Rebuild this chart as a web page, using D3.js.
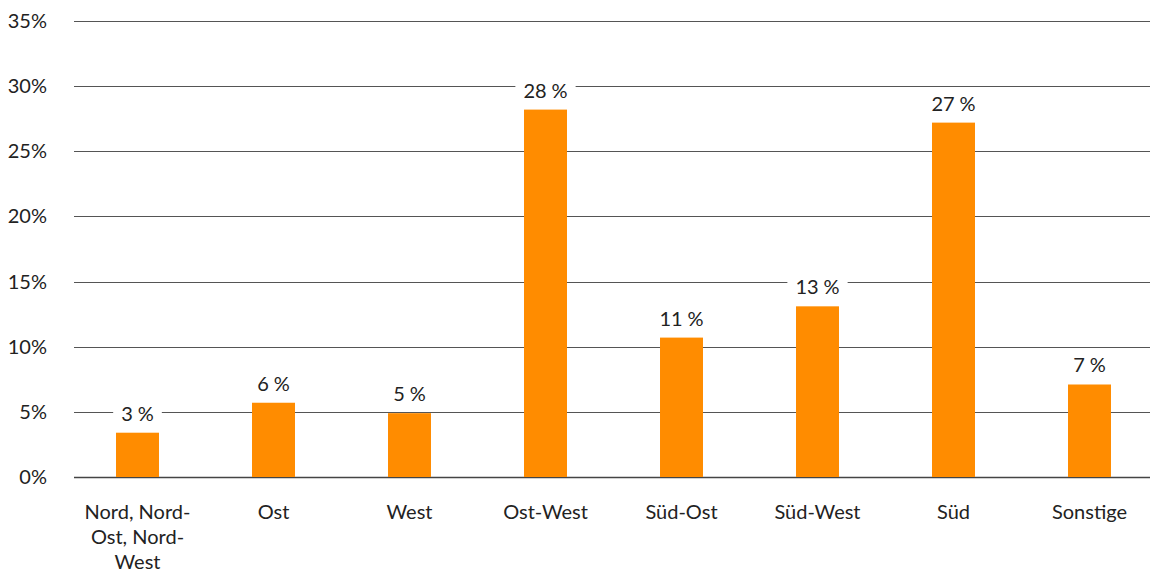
<!DOCTYPE html>
<html>
<head>
<meta charset="utf-8">
<script src="https://cdn.jsdelivr.net/npm/d3@7"></script>
<style>
  html, body { margin: 0; padding: 0; background: #fff; }
  svg { display: block; font-family: Lato, "Noto Sans", sans-serif; }
</style>
</head>
<body>
<svg id="chart" width="1150" height="575"></svg>
<script>
// Share by orientation
const categories = ["Nord, Nord-Ost, Nord-West", "Ost", "West", "Ost-West", "Süd-Ost", "Süd-West", "Süd", "Sonstige"];
const shares = [3.4, 5.7, 4.9, 28.2, 10.7, 13.1, 27.2, 7.1];
const yTicks = [0, 5, 10, 15, 20, 25, 30, 35];

const svg = d3.select("#chart");
const W = 1150, H = 575;
const gridLeft = 74;

const x = d3.scaleBand()
  .domain(categories)
  .range([69.5, 1157.5])
  .paddingInner(0.684)
  .paddingOuter(0.342);

const y = d3.scaleLinear().domain([0, 35]).range([477, 21]);

// Gridlines and y labels
const yAxis = svg.append("g");
yAxis.selectAll("line").data(yTicks).join("line")
  .attr("x1", gridLeft).attr("x2", W)
  .attr("y1", d => Math.round(y(d)) + 0.5).attr("y2", d => Math.round(y(d)) + 0.5)
  .attr("stroke", d => d === 0 ? "#444" : "#555")
  .attr("stroke-width", d => d === 0 ? 1.5 : 1);
yAxis.selectAll("text").data(yTicks).join("text")
  .attr("x", 47).attr("y", d => y(d) + 7)
  .attr("text-anchor", "end")
  .attr("font-size", 20).attr("fill", "#222")
  .text(d => d + "%");

// Bars
svg.append("g").selectAll("rect").data(shares).join("rect")
  .attr("x", (d, i) => x(categories[i]))
  .attr("width", x.bandwidth())
  .attr("y", d => y(d))
  .attr("height", d => y(0) - y(d))
  .attr("fill", "#ff8c00");

// Value labels with white backing
const fmt = d3.format(".0f");
const vl = svg.append("g").selectAll("g").data(shares).join("g")
  .attr("transform", (d, i) => `translate(${x(categories[i]) + x.bandwidth() / 2},${y(d) - 12})`);
vl.append("text")
  .attr("text-anchor", "middle")
  .attr("font-size", 20).attr("fill", "#222")
  .text(d => fmt(d) + "\u202F%");
vl.each(function() {
  const g = d3.select(this);
  const bb = g.select("text").node().getBBox();
  g.insert("rect", "text")
    .attr("x", bb.x - 8).attr("y", bb.y - 2)
    .attr("width", bb.width + 16).attr("height", bb.height + 4)
    .attr("fill", "#fff");
});

// Category labels, wrapped after spaces and hyphens
const maxW = 112;
const cl = svg.append("g").selectAll("text").data(categories).join("text")
  .attr("text-anchor", "middle")
  .attr("font-size", 20).attr("fill", "#222")
  .attr("x", d => x(d) + x.bandwidth() / 2)
  .attr("y", 519);
cl.each(function(d) {
  const t = d3.select(this);
  const tokens = d.match(/[^\s-]+-?\s?/g);
  const lines = [];
  let cur = "";
  const probe = t.append("tspan");
  tokens.forEach(tok => {
    const trial = cur + tok;
    probe.text(trial.trim());
    if (cur && probe.node().getComputedTextLength() > maxW) {
      lines.push(cur.trim());
      cur = tok;
    } else {
      cur = trial;
    }
  });
  lines.push(cur.trim());
  probe.remove();
  lines.forEach((ln, i) => {
    t.append("tspan")
      .attr("x", t.attr("x"))
      .attr("dy", i === 0 ? 0 : 25)
      .text(ln);
  });
});
</script>
</body>
</html>
